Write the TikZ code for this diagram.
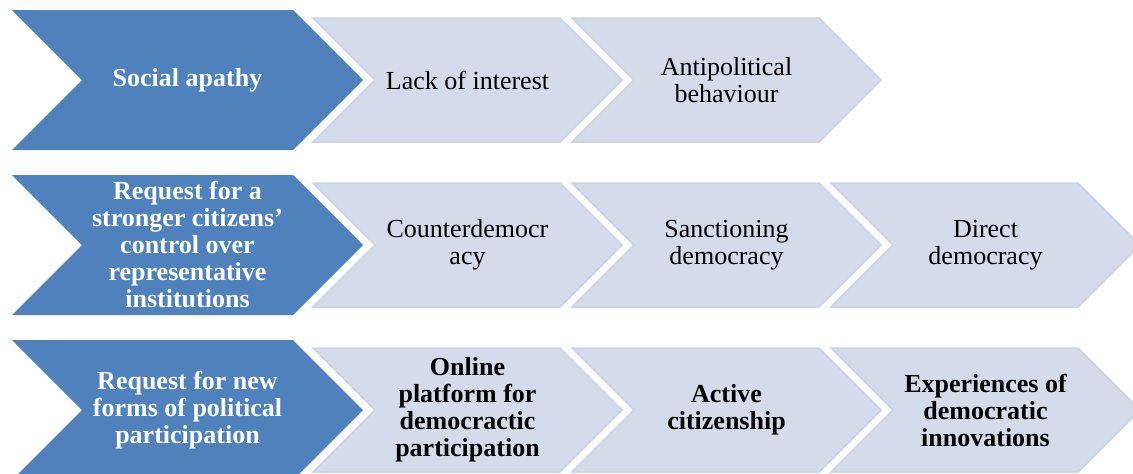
\documentclass[tikz,border=0pt]{standalone}
\usepackage{fontspec}
\setmainfont{Liberation Serif}
\definecolor{chevblue}{HTML}{4F81BD}
\definecolor{chevlight}{HTML}{D4DBEA}
\definecolor{chevedge}{HTML}{CBD3E6}
\newcommand{\bluechev}[2]{% left x, centre y
  \fill[chevblue] (#1,#2-70) -- (#1+281,#2-70) -- (#1+351,#2) -- (#1+281,#2+70) -- (#1,#2+70) -- (#1+70,#2) -- cycle;}
\newcommand{\lightchev}[2]{%
  \filldraw[fill=chevlight,draw=chevedge,line width=1.5pt,line join=miter] (#1,#2-62) -- (#1+247,#2-62) -- (#1+309,#2) -- (#1+247,#2+62) -- (#1,#2+62) -- (#1+62,#2) -- cycle;}
\tikzset{
  bluetxt/.style={text=white,font=\fontsize{26}{27}\selectfont\bfseries,align=center,inner sep=0pt},
  lighttxt/.style={text=black,font=\fontsize{26}{27}\selectfont,align=center,inner sep=0pt},
  lightbold/.style={lighttxt,font=\fontsize{26}{27}\selectfont\bfseries}
}
\begin{document}
\begin{tikzpicture}[x=1pt,y=-1pt]
\useasboundingbox (0,0) rectangle (1133,474);
% row 1
\bluechev{12}{80}
\lightchev{313}{80}
\lightchev{572}{80}
\node[bluetxt] (r1a) at (187.5,80) {Social apathy};
\node[lighttxt] (r1b) at (467.5,80) {Lack of interest};
\node[lighttxt] (r1c) at (726.5,80) {Antipolitical\\behaviour};
% row 2
\bluechev{12}{245}
\lightchev{313}{245}
\lightchev{572}{245}
\lightchev{831}{245}
\node[bluetxt] (r2a) at (187.5,245) {Request for a\\stronger citizens’\\control over\\representative\\institutions};
\node[lighttxt] (r2b) at (467.5,245) {Counterdemocr\\acy};
\node[lighttxt] (r2c) at (726.5,245) {Sanctioning\\democracy};
\node[lighttxt] (r2d) at (985.5,245) {Direct\\democracy};
% row 3
\bluechev{12}{410}
\lightchev{313}{410}
\lightchev{572}{410}
\lightchev{831}{410}
\node[bluetxt] (r3a) at (187.5,410) {Request for new\\forms of political\\participation};
\node[lightbold] (r3b) at (467.5,410) {Online\\platform for\\democractic\\participation};
\node[lightbold] (r3c) at (726.5,410) {Active\\citizenship};
\node[lightbold] (r3d) at (985.5,410) {Experiences of\\democratic\\innovations};
\end{tikzpicture}
\end{document}
